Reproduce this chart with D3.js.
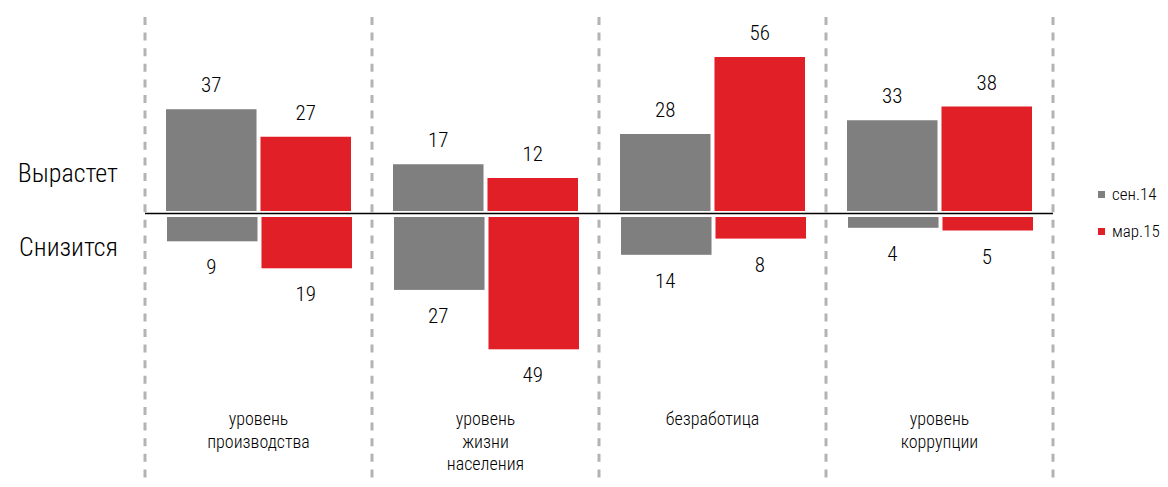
<!DOCTYPE html>
<html>
  <head>
    <meta charset="utf-8">
    <script src="https://d3js.org/d3.v7.min.js"></script>
    <style>
      body { margin: 0; background: #fff; }
      svg text { font-family: "Roboto Condensed", "Liberation Sans Narrow", Roboto, sans-serif; font-weight: 300; fill: #000; }
    </style>
  </head>
<body>
  <script type="text/javascript">
    // chart data
    var categories = [
      ["уровень", "производства"],
      ["уровень", "жизни", "населения"],
      ["безработица"],
      ["уровень", "коррупции"]
    ];
    var seriesNames = ["сен.14", "мар.15"];
    var riseSep14 = [37, 17, 28, 33];
    var riseMar15 = [27, 12, 56, 38];
    var fallSep14 = [9, 27, 14, 4];
    var fallMar15 = [19, 49, 8, 5];
    var rowLabels = ["Вырастет", "Снизится"];

    var colors = ["#7f7f7f", "#e01f26"];

    var width = 1168, height = 487;

    var svg = d3.select("body").append("svg")
      .attr("width", width)
      .attr("height", height);

    var x0 = d3.scaleBand()
      .domain(d3.range(categories.length))
      .range([145, 1053]);

    var x1 = d3.scaleBand()
      .domain(seriesNames)
      .range([21, x0.bandwidth() - 21])
      .paddingInner(0.042);

    var yUp = d3.scaleLinear().domain([0, 60]).range([211, 211 - 165]);
    var yDown = d3.scaleLinear().domain([0, 60]).range([217, 217 + 162]);

    // dashed separators
    var seps = d3.range(categories.length + 1).map(function(i) {
      return i < categories.length ? x0(i) : x0(i - 1) + x0.bandwidth();
    });
    svg.selectAll("line.sep").data(seps).enter().append("line")
      .attr("class", "sep")
      .attr("x1", function(d) { return d; })
      .attr("x2", function(d) { return d; })
      .attr("y1", 17)
      .attr("y2", 482)
      .attr("stroke", "#b3b3b3")
      .attr("stroke-width", 3)
      .attr("stroke-dasharray", "8,7.6");

    var rise = [riseSep14, riseMar15];
    var fall = [fallSep14, fallMar15];

    var rows = [];
    seriesNames.forEach(function(s, si) {
      categories.forEach(function(c, ci) {
        rows.push({ s: s, si: si, ci: ci, up: rise[si][ci], down: fall[si][ci] });
      });
    });

    var g = svg.append("g");

    // positive bars
    g.selectAll("rect.up").data(rows).enter().append("rect")
      .attr("class", "up")
      .attr("x", function(d) { return x0(d.ci) + x1(d.s); })
      .attr("width", x1.bandwidth())
      .attr("y", function(d) { return yUp(d.up); })
      .attr("height", function(d) { return yUp(0) - yUp(d.up); })
      .attr("fill", function(d) { return colors[d.si]; });

    // negative bars
    g.selectAll("rect.down").data(rows).enter().append("rect")
      .attr("class", "down")
      .attr("x", function(d) { return x0(d.ci) + x1(d.s) + 1; })
      .attr("width", x1.bandwidth())
      .attr("y", yDown(0))
      .attr("height", function(d) { return yDown(d.down) - yDown(0); })
      .attr("fill", function(d) { return colors[d.si]; });

    // value labels
    g.selectAll("text.up").data(rows).enter().append("text")
      .attr("class", "up")
      .attr("x", function(d) { return x0(d.ci) + x1(d.s) + x1.bandwidth() / 2; })
      .attr("y", function(d) { return yUp(d.up) - 17; })
      .attr("text-anchor", "middle")
      .attr("font-size", 21)
      .text(function(d) { return d.up; });

    g.selectAll("text.down").data(rows).enter().append("text")
      .attr("class", "down")
      .attr("x", function(d) { return x0(d.ci) + x1(d.s) + x1.bandwidth() / 2; })
      .attr("y", function(d) { return yDown(d.down) + 33; })
      .attr("text-anchor", "middle")
      .attr("font-size", 21)
      .text(function(d) { return d.down; });

    // zero line
    svg.append("line")
      .attr("x1", 145).attr("x2", 1053)
      .attr("y1", 213.5).attr("y2", 213.5)
      .attr("stroke", "#000")
      .attr("stroke-width", 1.5);

    // category labels
    var cat = svg.selectAll("text.cat").data(categories).enter().append("text")
      .attr("class", "cat")
      .attr("text-anchor", "middle")
      .attr("font-size", 18);
    cat.selectAll("tspan").data(function(d, i) { return d.map(function(t) { return { t: t, i: i }; }); })
      .enter().append("tspan")
      .attr("x", function(d) { return x0(d.i) + x0.bandwidth() / 2; })
      .attr("y", function(d, j) { return 425 + j * 22.5; })
      .text(function(d) { return d.t; });

    // row labels
    svg.selectAll("text.row").data(rowLabels).enter().append("text")
      .attr("class", "row")
      .attr("x", 118)
      .attr("y", function(d, i) { return i === 0 ? 182 : 256; })
      .attr("text-anchor", "end")
      .attr("font-size", 26)
      .text(function(d) { return d; });

    // legend
    var leg = svg.selectAll("g.leg").data(seriesNames).enter().append("g")
      .attr("class", "leg")
      .attr("transform", function(d, i) { return "translate(1098," + (191 + i * 37) + ")"; });
    leg.append("rect")
      .attr("width", 7).attr("height", 7)
      .attr("fill", function(d, i) { return colors[i]; });
    leg.append("text")
      .attr("x", 14).attr("y", 8.5)
      .attr("font-size", 17)
      .text(function(d) { return d; });
  </script>
</body>
</html>
